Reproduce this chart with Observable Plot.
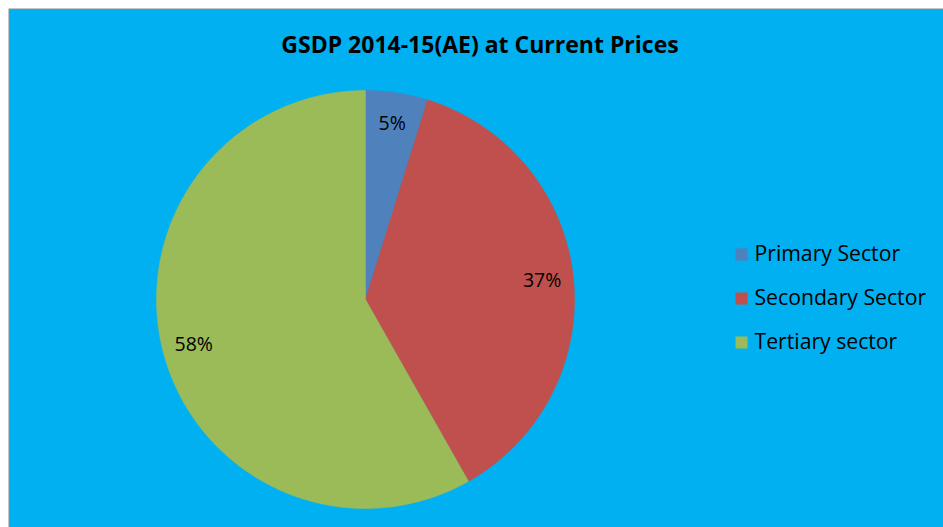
<!DOCTYPE html>
<html><head><meta charset="utf-8">
<script src="https://cdn.jsdelivr.net/npm/d3@7"></script>
<script src="https://cdn.jsdelivr.net/npm/@observablehq/plot@0.6"></script>
<style>html,body{margin:0;padding:0;background:#fff;overflow:hidden}</style>
</head><body><div id="chart"></div>
<script>
const title = "GSDP 2014-15(AE) at Current Prices";
const sectors = ["Primary Sector", "Secondary Sector", "Tertiary sector"];
const shares = [4.8, 37.0, 58.2];
const labels = ["5%", "37%", "58%"];
const colors = ["#4f81bd", "#c0504d", "#9bbb59"];

const W = 943, H = 527, cx = 365, cy = 299, R = 209;
const xDomain = [-cx / R, (W - cx) / R], yDomain = [-(H - cy) / R, cy / R];
const px = p => (p - cx) / R, py = p => (cy - p) / R;

const rows = sectors.map((s, i) => ({sector: s, share: shares[i], label: labels[i]}));
const arcs = d3.pie().sort(null).value(d => d.share)(rows);

const slices = [];
for (const a of arcs) {
  const n = Math.max(2, Math.ceil((a.endAngle - a.startAngle) / (Math.PI / 360)));
  slices.push({sector: a.data.sector, x: 0, y: 0});
  for (let k = 0; k <= n; k++) {
    const t = a.startAngle + (a.endAngle - a.startAngle) * k / n;
    slices.push({sector: a.data.sector, x: Math.sin(t), y: Math.cos(t)});
  }
  slices.push({sector: a.data.sector, x: 0, y: 0});
}
const labelPos = arcs.map(a => {
  const t = (a.startAngle + a.endAngle) / 2, r = 0.85;
  return {label: a.data.label, x: r * Math.sin(t), y: r * Math.cos(t)};
});
const legend = sectors.map((s, i) => ({sector: s, y: py(254 + 44 * i)}));

const chart = Plot.plot({
  width: W, height: H, margin: 0,
  x: {domain: xDomain, axis: null},
  y: {domain: yDomain, axis: null},
  color: {domain: sectors, range: colors},
  style: {background: "transparent", fontFamily: "'Open Sans', sans-serif", color: "#000"},
  marks: [
    Plot.frame({fill: "#00b0f0", stroke: "#8c8c8c", insetLeft: 8.5, insetTop: 8.5, insetRight: -3, insetBottom: -3}),
    Plot.line(slices, {x: "x", y: "y", z: "sector", fill: "sector", stroke: "sector", strokeWidth: 0.5, curve: "linear"}),
    Plot.text(labelPos, {x: "x", y: "y", text: "label", fontSize: 19.5, fill: "#000"}),
    Plot.text([title], {x: px(479.5), y: py(45), text: d => d, fontSize: 23, fontWeight: "bold", fill: "#000"}),
    Plot.dot(legend, {x: px(741), y: "y", symbol: "square", r: 6.8, fill: "sector", stroke: null}),
    Plot.text(legend, {x: px(754), y: "y", text: "sector", textAnchor: "start", fontSize: 21.2, fill: "#000"})
  ]
});
document.getElementById("chart").append(chart);
</script>
</body></html>
